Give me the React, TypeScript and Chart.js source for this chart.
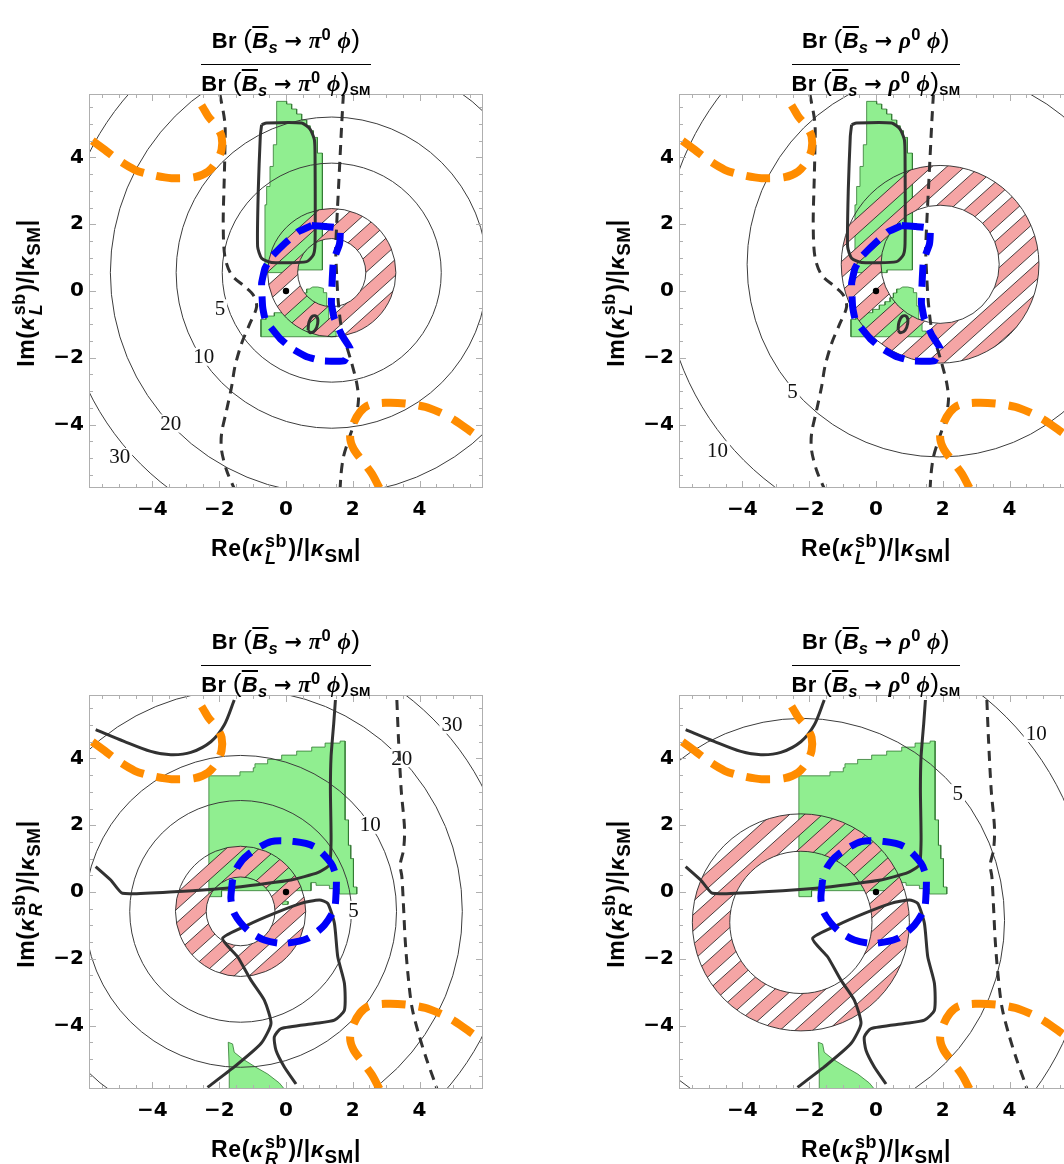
import React, { useEffect, useRef } from 'react';
import { Chart, registerables } from 'chart.js';

Chart.register(...registerables);

type Pt = [number, number];

// ---------- axes ----------
const AXIS_MIN = -5.9;
const AXIS_MAX = 5.9;
const TICK_VALUES = [-4, -2, 0, 2, 4];
const MINOR_STEP = 0.5;

// Standard-model point
const SM_POINT: Pt = [0, 0];

// ---------- orange dashed bounds (same in every panel) ----------
const ORANGE_UPPER: Pt[] = [
  [-5.8, 4.5], [-5.43, 4.23], [-5.03, 3.93], [-4.53, 3.63], [-4.03, 3.48], [-3.43, 3.38],
  [-2.73, 3.41], [-2.33, 3.58], [-2.08, 3.88], [-1.93, 4.23], [-1.93, 4.63], [-2.08, 4.93],
  [-2.33, 5.23], [-2.48, 5.48], [-2.53, 5.56],
];
const ORANGE_LOWER: Pt[] = [
  [2.8, -5.9], [2.57, -5.47], [2.27, -5.07], [2.02, -4.72], [1.92, -4.37], [2.02, -3.97],
  [2.22, -3.62], [2.47, -3.42], [2.97, -3.35], [3.57, -3.37], [4.17, -3.47], [4.57, -3.62],
  [4.97, -3.82], [5.27, -4.02], [5.62, -4.27],
];

// ---------- left-handed coupling ----------
const DASHED_L_LEFT: Pt[] = [
  [-1.98, 5.9], [-1.83, 5.03], [-1.83, 4.23], [-1.85, 3.33], [-1.88, 2.03], [-1.83, 1.03],
  [-1.63, 0.48], [-1.23, 0.13], [-0.98, -0.12], [-0.88, -0.47], [-1.08, -0.97], [-1.33, -1.57],
  [-1.53, -2.27], [-1.63, -2.87], [-1.78, -3.57], [-1.93, -4.27], [-1.93, -4.77], [-1.78, -5.37],
  [-1.55, -5.92],
];
const DASHED_L_RIGHT: Pt[] = [
  [1.72, 5.9], [1.67, 5.03], [1.62, 4.03], [1.57, 3.03], [1.52, 2.03], [1.49, 1.23],
  [1.52, 0.43], [1.57, -0.37], [1.67, -1.17], [1.82, -1.67], [1.97, -2.17], [2.12, -2.77],
  [2.17, -3.27], [2.07, -3.87], [1.87, -4.47], [1.72, -4.97], [1.65, -5.47], [1.62, -5.92],
];
const SOLID_L_BOX: Pt[] = [
  [-0.73, 4.98], [-0.58, 5.03], [0.47, 5.03], [0.72, 4.85], [0.85, 4.53], [0.87, 4.03],
  [0.87, 1.43], [0.82, 1.08], [0.62, 0.88], [-0.43, 0.85], [-0.73, 0.98], [-0.85, 1.33],
  [-0.83, 3.03], [-0.77, 4.63], [-0.73, 4.98],
];
const SOLID_L_LOOP: Pt[] = [
  [0.66, -1.18], [0.69, -0.93], [0.8, -0.75], [0.93, -0.78], [0.95, -0.97], [0.87, -1.18],
  [0.74, -1.25], [0.66, -1.18],
];
const BLUE_L: Pt[] = [
  [0.77, 1.96], [1.2, 1.93], [1.62, 1.87], [1.6, 1.4], [1.42, 0.9], [1.38, 0.23],
  [1.36, -0.37], [1.44, -0.8], [1.67, -1.32], [1.92, -1.72], [1.75, -2.09], [1.07, -2.09],
  [0.62, -1.97], [0.17, -1.72], [-0.18, -1.42], [-0.43, -1.12], [-0.62, -0.87], [-0.7, -0.47],
  [-0.73, 0.23], [-0.63, 0.68], [-0.43, 1.03], [-0.03, 1.43], [0.37, 1.78], [0.77, 1.96],
];
const GREEN_L_UPPER: Pt[] = [
  [-0.28, 5.68], [0.02, 5.68], [0.02, 5.6], [0.17, 5.6], [0.17, 5.45], [0.32, 5.45], [0.32, 5.3],
  [0.47, 5.3], [0.47, 5.12], [0.62, 5.12], [0.62, 4.95], [0.72, 4.95], [0.72, 4.8], [0.82, 4.8],
  [0.82, 4.6], [0.94, 4.6], [0.94, 4.13], [1.09, 4.13], [1.09, 0.63], [0.33, 0.63], [0.33, 0.55],
  [-0.63, 0.55], [-0.63, 2.58], [-0.58, 2.58], [-0.58, 3.13], [-0.48, 3.13], [-0.48, 3.73],
  [-0.38, 3.73], [-0.38, 4.38], [-0.28, 4.38], [-0.28, 5.68],
];
const GREEN_L_LOWER: Pt[] = [
  [-0.75, -0.85], [-0.75, -1.37], [1.5, -1.37], [1.5, -1.2], [1.38, -1.2], [1.38, -0.85],
  [1.28, -0.85], [1.28, -0.45], [1.22, -0.45], [1.22, -0.05], [1.12, -0.05], [1.12, 0.08],
  [0.95, 0.12], [0.8, 0.12], [0.7, 0.06], [0.62, 0.06], [0.62, -0.06], [0.52, -0.06],
  [0.52, -0.2], [0.42, -0.2], [0.42, -0.32], [0.27, -0.32], [0.27, -0.42], [0.1, -0.42],
  [0.1, -0.55], [-0.1, -0.55], [-0.1, -0.65], [-0.35, -0.65], [-0.35, -0.75], [-0.6, -0.75],
  [-0.6, -0.85], [-0.75, -0.85],
];

// ---------- right-handed coupling ----------
const DASHED_R: Pt[] = [
  [3.32, 5.75], [3.37, 4.56], [3.45, 3.06], [3.55, 1.9], [3.52, 1.26], [3.42, 0.81],
  [3.47, 0.46], [3.52, -0.44], [3.57, -1.44], [3.65, -2.44], [3.77, -3.44], [3.97, -4.24],
  [4.22, -5.04], [4.47, -5.74], [4.52, -5.9],
];
const SOLID_R_UPPER: Pt[] = [
  [-5.7, 4.86], [-4.85, 4.51], [-4.05, 4.21], [-3.45, 4.11], [-2.85, 4.18], [-2.25, 4.5],
  [-1.85, 5.0], [-1.55, 5.75],
];
const SOLID_R_MIDDLE: Pt[] = [
  [-5.7, 0.76], [-5.25, 0.36], [-4.9, -0.04], [-3.35, 0.01], [-1.35, 0.16], [0.15, 0.36],
  [0.95, 0.58], [1.3, 0.81], [1.35, 1.56], [1.33, 3.06], [1.35, 4.06], [1.43, 5.06], [1.48, 5.75],
];
const SOLID_R_LOWER: Pt[] = [
  [-2.35, -5.85], [-1.55, -5.24], [-0.75, -4.54], [-0.45, -3.94], [-0.65, -3.24], [-1.05, -2.64],
  [-1.45, -1.94], [-1.9, -1.39], [-1.15, -0.99], [-0.35, -0.64], [0.45, -0.34], [1.0, -0.24],
  [1.25, -0.34], [1.45, -0.94], [1.55, -1.94], [1.75, -2.74], [1.75, -3.54], [1.45, -3.84],
  [0.85, -3.94], [-0.15, -4.09], [-0.35, -4.34], [-0.3, -4.74], [-0.05, -5.24], [0.3, -5.75],
];
const BLUE_R: Pt[] = [
  [-1.6, 0.36], [-1.65, -0.2], [-1.55, -0.64], [-1.15, -1.14], [-0.65, -1.44], [-0.05, -1.54],
  [0.65, -1.39], [1.15, -0.99], [1.45, -0.5], [1.5, 0.0], [1.5, 0.46], [1.35, 0.86],
  [0.85, 1.36], [0.25, 1.51], [-0.45, 1.51], [-1.15, 1.11], [-1.45, 0.76], [-1.6, 0.36],
];
const GREEN_R_MAIN: Pt[] = [
  [-2.31, 3.48], [-1.38, 3.48], [-1.38, 3.6], [-0.98, 3.6], [-0.98, 3.72], [-0.93, 3.72],
  [-0.93, 3.84], [-0.55, 3.84], [-0.55, 3.97], [-0.13, 3.97], [-0.13, 4.1], [0.32, 4.1],
  [0.32, 4.22], [0.77, 4.22], [0.77, 4.34], [1.17, 4.34], [1.17, 4.46], [1.62, 4.46],
  [1.62, 4.52], [1.77, 4.52], [1.77, 2.16], [1.87, 2.16], [1.87, 1.4], [1.94, 1.4], [1.94, 1.0],
  [2.02, 1.0], [2.02, 0.15], [2.12, 0.15], [2.12, -0.06], [1.6, -0.06], [1.6, 0.1], [1.3, 0.1],
  [1.3, 0.2], [0.9, 0.2], [0.9, 0.28], [0.75, 0.28], [0.75, 0.04], [-1.93, 0.04], [-1.93, -0.14],
  [-2.31, -0.14], [-2.31, 3.48],
];
const GREEN_R_SPECK: Pt[] = [
  [-0.13, -0.3], [-0.05, -0.26], [0.07, -0.29], [0.06, -0.37], [-0.1, -0.38], [-0.13, -0.3],
];
const GREEN_R_LOWER: Pt[] = [
  [-1.73, -4.5], [-1.6, -4.55], [-1.55, -4.8], [-1.3, -5.0], [-0.9, -5.25], [-0.55, -5.45],
  [-0.2, -5.72], [-0.05, -5.9], [-1.68, -5.9], [-1.7, -5.3], [-1.73, -4.5],
];

// ---------- branching-ratio contours (levels, common centre, radii, label spots) ----------
const LEVELS_PI = [5, 10, 20, 30];
const LEVELS_RHO = [5, 10];

const CENTER_PI_L: Pt = [1.37, 0.55];
const RADII_PI_L = [3.28, 4.66, 6.63, 8.1];
const LABELS_PI_L: Pt[] = [[-1.98, -0.52], [-2.46, -1.97], [-3.45, -3.97], [-4.98, -4.97]];

const CENTER_RHO_L: Pt = [1.91, 0.8];
const RADII_RHO_L = [5.77, 8.3];
const LABELS_RHO_L: Pt[] = [[-2.5, -3.02], [-4.75, -4.77]];

const CENTER_PI_R: Pt = [-1.36, -0.58];
const RADII_PI_R = [3.32, 4.67, 6.64, 8.15];
const LABELS_PI_R: Pt[] = [[2.02, -0.54], [2.52, 2.01], [3.47, 4.01], [4.97, 5.01]];

const CENTER_RHO_R: Pt = [-2.2, -0.85];
const RADII_RHO_R = [6.05, 8.62];
const LABELS_RHO_R: Pt[] = [[2.45, 2.96], [4.8, 4.76]];

// ---------- hatched experimental band: centre, [inner, outer] radius ----------
const BAND_CENTER_PI_L: Pt = [1.37, 0.55];
const BAND_PI_L: Pt = [1.02, 1.92];
const BAND_CENTER_RHO_L: Pt = [1.92, 0.8];
const BAND_RHO_L: Pt = [1.77, 2.96];
const BAND_CENTER_PI_R: Pt = [-1.36, -0.58];
const BAND_PI_R: Pt = [1.03, 1.95];
const BAND_CENTER_RHO_R: Pt = [-2.25, -0.91];
const BAND_RHO_R: Pt = [2.13, 3.25];

// ---------- styling ----------
const SANS = '"Liberation Sans", Arial, Helvetica, sans-serif';
const TICK_FAMILY = '"DejaVu Sans", "Liberation Sans", Arial, sans-serif';
const SERIF = '"Liberation Serif", "DejaVu Serif", "Times New Roman", serif';
const GREEN_FILL = 'rgb(144,238,144)';
const GREEN_EDGE = 'rgb(50,120,50)';
const DARK = 'rgb(50,50,50)';
const BLUE = 'rgb(0,0,250)';
const ORANGE = 'rgb(255,140,0)';
const PINK = 'rgb(245,165,165)';
const FRAME_COLOR = 'rgb(175,175,175)';
const HATCH_ANGLE_DEG = 42;
const HATCH_PERIOD = 22;
const HATCH_BAND = 12;
const DASH_BLACK = [10, 7];
const DASH_BLUE = [22, 11];
const DASH_ORANGE = [24, 13];

// ---------- page layout ----------
const AREA = 394;
const CANVAS_PAD_TOP = 10;
const X_AXIS_HEIGHT = 50;
const COLS = [
  { areaLeft: 89, canvasLeft: 0, canvasWidth: 532 },
  { areaLeft: 679, canvasLeft: 532, canvasWidth: 548 },
];
const ROWS = [{ areaTop: 94 }, { areaTop: 695 }];

interface PanelSpec {
  col: number;
  row: number;
  meson: string;
  chirality: 'L' | 'R';
  levels: number[];
  center: Pt;
  radii: number[];
  labels: Pt[];
  bandCenter: Pt;
  band: Pt;
}

const PANELS: PanelSpec[] = [
  { col: 0, row: 0, meson: 'π', chirality: 'L', levels: LEVELS_PI, center: CENTER_PI_L, radii: RADII_PI_L, labels: LABELS_PI_L, bandCenter: BAND_CENTER_PI_L, band: BAND_PI_L },
  { col: 1, row: 0, meson: 'ρ', chirality: 'L', levels: LEVELS_RHO, center: CENTER_RHO_L, radii: RADII_RHO_L, labels: LABELS_RHO_L, bandCenter: BAND_CENTER_RHO_L, band: BAND_RHO_L },
  { col: 0, row: 1, meson: 'π', chirality: 'R', levels: LEVELS_PI, center: CENTER_PI_R, radii: RADII_PI_R, labels: LABELS_PI_R, bandCenter: BAND_CENTER_PI_R, band: BAND_PI_R },
  { col: 1, row: 1, meson: 'ρ', chirality: 'R', levels: LEVELS_RHO, center: CENTER_RHO_R, radii: RADII_RHO_R, labels: LABELS_RHO_R, bandCenter: BAND_CENTER_RHO_R, band: BAND_RHO_R },
];

// ---------- dataset helpers ----------
const xy = (pts: Pt[]) => pts.map(([x, y]) => ({ x, y }));

function curve(pts: Pt[], color: string, width: number, dash: number[], order: number, tension = 0.3) {
  return {
    data: xy(pts), showLine: true, fill: false, pointRadius: 0, pointHoverRadius: 0,
    borderColor: color, borderWidth: width, borderDash: dash, borderCapStyle: 'butt',
    borderJoinStyle: 'round', tension, clip: 0, order,
  };
}

function region(pts: Pt[], order: number) {
  return {
    data: xy(pts), showLine: true, fill: 'shape', backgroundColor: GREEN_FILL,
    borderColor: GREEN_EDGE, borderWidth: 0.8, pointRadius: 0, pointHoverRadius: 0,
    tension: 0, clip: 0, order,
  };
}

function buildDatasets(spec: PanelSpec): any[] {
  const sets: any[] = [];
  if (spec.chirality === 'L') {
    sets.push(region(GREEN_L_UPPER, 10), region(GREEN_L_LOWER, 10));
  } else {
    sets.push(region(GREEN_R_MAIN, 10), region(GREEN_R_SPECK, 10), region(GREEN_R_LOWER, 10));
  }
  // empty anchor: hatched band and contour circles are painted right after it
  sets.push({ data: [], underlay: true, order: 9, pointRadius: 0 });
  if (spec.chirality === 'L') {
    sets.push(curve(DASHED_L_LEFT, DARK, 3, DASH_BLACK, 5));
    sets.push(curve(DASHED_L_RIGHT, DARK, 3, DASH_BLACK, 5));
    sets.push(curve(SOLID_L_BOX, DARK, 3, [], 4, 0.2));
    sets.push(curve(SOLID_L_LOOP, DARK, 3, [], 4, 0.4));
    sets.push(curve(BLUE_L, BLUE, 7, DASH_BLUE, 3, 0.1));
  } else {
    sets.push(curve(DASHED_R, DARK, 3, DASH_BLACK, 5));
    sets.push(curve(SOLID_R_UPPER, DARK, 3, [], 4, 0.3));
    sets.push(curve(SOLID_R_MIDDLE, DARK, 3, [], 4, 0.15));
    sets.push(curve(SOLID_R_LOWER, DARK, 3, [], 4, 0.2));
    sets.push(curve(BLUE_R, BLUE, 7, DASH_BLUE, 3, 0.25));
  }
  sets.push(curve(ORANGE_UPPER, ORANGE, 8, DASH_ORANGE, 2));
  sets.push(curve(ORANGE_LOWER, ORANGE, 8, DASH_ORANGE, 2));
  sets.push({
    data: xy([SM_POINT]), showLine: false, pointRadius: 3.2, pointHoverRadius: 3.2,
    pointBackgroundColor: '#000', pointBorderWidth: 0, clip: 0, order: 1,
  });
  return sets;
}

// ---------- canvas painting ----------
function drawBand(ctx: CanvasRenderingContext2D, xs: any, ys: any, spec: PanelSpec) {
  const k = xs.getPixelForValue(1) - xs.getPixelForValue(0);
  const cx = xs.getPixelForValue(spec.bandCenter[0]);
  const cy = ys.getPixelForValue(spec.bandCenter[1]);
  const ri = spec.band[0] * k;
  const ro = spec.band[1] * k;
  ctx.save();
  ctx.beginPath();
  ctx.arc(cx, cy, ro, 0, Math.PI * 2);
  ctx.moveTo(cx + ri, cy);
  ctx.arc(cx, cy, ri, 0, Math.PI * 2, true);
  ctx.clip();
  ctx.translate(cx, cy);
  ctx.rotate((-HATCH_ANGLE_DEG * Math.PI) / 180);
  ctx.fillStyle = PINK;
  ctx.strokeStyle = 'rgba(20,20,20,0.9)';
  ctx.lineWidth = 0.8;
  for (let s = -ro - HATCH_PERIOD * 0.6; s < ro + HATCH_PERIOD; s += HATCH_PERIOD) {
    ctx.fillRect(-ro - 6, s, 2 * ro + 12, HATCH_BAND);
    ctx.beginPath();
    ctx.moveTo(-ro - 6, s);
    ctx.lineTo(ro + 6, s);
    ctx.moveTo(-ro - 6, s + HATCH_BAND);
    ctx.lineTo(ro + 6, s + HATCH_BAND);
    ctx.stroke();
  }
  ctx.restore();
  ctx.save();
  ctx.strokeStyle = 'rgb(40,40,40)';
  ctx.lineWidth = 0.9;
  ctx.beginPath();
  ctx.arc(cx, cy, ro, 0, Math.PI * 2);
  ctx.stroke();
  ctx.beginPath();
  ctx.arc(cx, cy, ri, 0, Math.PI * 2);
  ctx.stroke();
  ctx.restore();
}

function drawContours(ctx: CanvasRenderingContext2D, xs: any, ys: any, spec: PanelSpec) {
  const k = xs.getPixelForValue(1) - xs.getPixelForValue(0);
  const cx = xs.getPixelForValue(spec.center[0]);
  const cy = ys.getPixelForValue(spec.center[1]);
  ctx.save();
  ctx.strokeStyle = 'rgb(60,60,60)';
  ctx.lineWidth = 1;
  spec.radii.forEach((r) => {
    ctx.beginPath();
    ctx.arc(cx, cy, r * k, 0, Math.PI * 2);
    ctx.stroke();
  });
  ctx.font = `21px ${SERIF}`;
  ctx.textAlign = 'center';
  ctx.textBaseline = 'middle';
  spec.levels.forEach((lv, i) => {
    const [lx, ly] = spec.labels[i];
    const px = xs.getPixelForValue(lx);
    const py = ys.getPixelForValue(ly);
    const t = String(lv);
    const w = ctx.measureText(t).width;
    ctx.fillStyle = '#fff';
    ctx.fillRect(px - w / 2 - 2, py - 9, w + 4, 18);
    ctx.fillStyle = '#111';
    ctx.fillText(t, px, py + 1);
  });
  ctx.restore();
}

function drawFrame(chart: any) {
  const { ctx, chartArea: a, scales } = chart;
  const xs = scales.x;
  const ys = scales.y;
  ctx.save();
  ctx.strokeStyle = FRAME_COLOR;
  ctx.lineWidth = 1;
  ctx.strokeRect(Math.round(a.left) + 0.5, Math.round(a.top) + 0.5, Math.round(a.right - a.left) - 1, Math.round(a.bottom - a.top) - 1);
  ctx.beginPath();
  const first = Math.ceil((AXIS_MIN + 0.01) / MINOR_STEP);
  const last = Math.floor((AXIS_MAX - 0.01) / MINOR_STEP);
  for (let i = first; i <= last; i++) {
    const v = i * MINOR_STEP;
    const len = TICK_VALUES.includes(v) ? 7 : 4;
    const px = Math.round(xs.getPixelForValue(v)) + 0.5;
    const py = Math.round(ys.getPixelForValue(v)) + 0.5;
    ctx.moveTo(px, a.bottom);
    ctx.lineTo(px, a.bottom - len);
    ctx.moveTo(px, a.top);
    ctx.lineTo(px, a.top + len);
    ctx.moveTo(a.left, py);
    ctx.lineTo(a.left + len, py);
    ctx.moveTo(a.right, py);
    ctx.lineTo(a.right - len, py);
  }
  ctx.stroke();
  ctx.restore();
}

function extrasPlugin(spec: PanelSpec) {
  return {
    id: 'panelExtras',
    afterDatasetDraw(chart: any, args: any) {
      const ds = chart.data.datasets[args.index];
      if (!ds || !ds.underlay) return;
      const { ctx, chartArea: a } = chart;
      ctx.save();
      ctx.beginPath();
      ctx.rect(a.left, a.top, a.right - a.left, a.bottom - a.top);
      ctx.clip();
      drawBand(ctx, chart.scales.x, chart.scales.y, spec);
      drawContours(ctx, chart.scales.x, chart.scales.y, spec);
      ctx.restore();
    },
    afterDraw(chart: any) {
      drawFrame(chart);
    },
  };
}

const tickLabel = (v: number | string) => {
  const n = Number(v);
  return n < 0 ? `\u2212${Math.abs(n)}` : String(n);
};

function buildConfig(spec: PanelSpec): any {
  const col = COLS[spec.col];
  const yWidth = col.areaLeft - col.canvasLeft;
  const padRight = col.canvasWidth - yWidth - AREA;
  const tickFont = { family: TICK_FAMILY, size: 20, weight: 'bold' as const };
  const noEdgePadding = (s: any) => {
    s.paddingTop = 0;
    s.paddingBottom = 0;
    s.paddingLeft = 0;
    s.paddingRight = 0;
  };
  return {
    type: 'scatter',
    data: { datasets: buildDatasets(spec) },
    options: {
      animation: false,
      responsive: false,
      maintainAspectRatio: false,
      events: [],
      layout: { padding: { top: CANVAS_PAD_TOP, left: 0, right: padRight, bottom: 0 }, autoPadding: false },
      plugins: { legend: { display: false }, tooltip: { enabled: false }, title: { display: false } },
      scales: {
        x: {
          type: 'linear', position: 'bottom', min: AXIS_MIN, max: AXIS_MAX,
          grid: { display: false, drawTicks: false }, border: { display: false },
          ticks: { font: tickFont, color: '#000', padding: 10, maxRotation: 0, autoSkip: false, callback: tickLabel },
          afterBuildTicks: (s: any) => { s.ticks = TICK_VALUES.map((value) => ({ value })); },
          afterFit: (s: any) => { s.height = X_AXIS_HEIGHT; noEdgePadding(s); },
        },
        y: {
          type: 'linear', position: 'left', min: AXIS_MIN, max: AXIS_MAX,
          grid: { display: false, drawTicks: false }, border: { display: false },
          ticks: { font: tickFont, color: '#000', padding: 5, autoSkip: false, callback: tickLabel },
          afterBuildTicks: (s: any) => { s.ticks = TICK_VALUES.map((value) => ({ value })); },
          afterFit: (s: any) => { s.width = yWidth; noEdgePadding(s); },
        },
      },
    },
    plugins: [extrasPlugin(spec)],
  };
}

// ---------- typeset labels ----------
function Sub({ children, scale = 0.75 }: { children: React.ReactNode; scale?: number }) {
  return <span style={{ fontSize: `${scale}em`, position: 'relative', top: '0.3em' }}>{children}</span>;
}
function Sup({ children, scale = 0.75 }: { children: React.ReactNode; scale?: number }) {
  return <span style={{ fontSize: `${scale}em`, position: 'relative', top: '-0.5em' }}>{children}</span>;
}
const greek: React.CSSProperties = { fontFamily: SERIF, fontStyle: 'italic', fontSize: '1.05em' };
const paren: React.CSSProperties = { fontWeight: 400, fontSize: '1.2em' };
const arrow: React.CSSProperties = { fontFamily: '"DejaVu Sans", sans-serif', fontSize: '0.95em' };

function Decay({ meson }: { meson: string }) {
  return (
    <>
      {'Br '}
      <span style={paren}>(</span>
      <span style={{ fontStyle: 'italic', textDecoration: 'overline', textDecorationThickness: '2px' }}>B</span>
      <Sub><i>s</i></Sub>
      {' '}
      <span style={arrow}>{'\u2192'}</span>
      {' '}
      <span style={greek}>{meson}</span>
      <Sup>0</Sup>
      {' '}
      <span style={greek}>ϕ</span>
      <span style={paren}>)</span>
    </>
  );
}

function Ratio({ meson, cx, top }: { meson: string; cx: number; top: number }) {
  return (
    <div style={{ position: 'absolute', left: cx - 160, top, width: 320, textAlign: 'center', font: `bold 22px ${SANS}`, letterSpacing: '0.3px', color: '#000' }}>
      <div style={{ display: 'inline-block' }}>
        <div style={{ lineHeight: '26px', paddingBottom: 9, borderBottom: '1.6px solid #000', whiteSpace: 'nowrap' }}>
          <Decay meson={meson} />
        </div>
        <div style={{ lineHeight: '26px', paddingTop: 4, whiteSpace: 'nowrap' }}>
          <Decay meson={meson} />
          <Sub scale={0.62}>SM</Sub>
        </div>
      </div>
    </div>
  );
}

function Coupling({ part, chirality }: { part: string; chirality: string }) {
  return (
    <>
      {part}(
      <span style={{ fontStyle: 'italic' }}>κ</span>
      <span style={{ display: 'inline-flex', flexDirection: 'column', verticalAlign: 'middle', fontSize: '0.78em', lineHeight: 0.95, textAlign: 'left', margin: '0 0.08em' }}>
        <span>sb</span>
        <span style={{ fontStyle: 'italic' }}>{chirality}</span>
      </span>
      )/|
      <span style={{ fontStyle: 'italic' }}>κ</span>
      <Sub scale={0.82}>SM</Sub>|
    </>
  );
}

const axisTitle: React.CSSProperties = {
  position: 'absolute', width: 320, lineHeight: '30px', textAlign: 'center',
  font: `bold 23px ${SANS}`, letterSpacing: '0.6px', whiteSpace: 'nowrap', color: '#000',
};

function Panel({ spec }: { spec: PanelSpec }) {
  const ref = useRef<HTMLCanvasElement | null>(null);
  const col = COLS[spec.col];
  const row = ROWS[spec.row];
  const canvasTop = row.areaTop - CANVAS_PAD_TOP;
  const canvasHeight = CANVAS_PAD_TOP + AREA + X_AXIS_HEIGHT;
  const midX = col.areaLeft + AREA / 2;
  const midY = row.areaTop + AREA / 2;

  useEffect(() => {
    if (!ref.current) return;
    const chart = new Chart(ref.current, buildConfig(spec));
    return () => chart.destroy();
  }, [spec]);

  return (
    <>
      <canvas
        ref={ref}
        width={col.canvasWidth}
        height={canvasHeight}
        style={{ position: 'absolute', left: col.canvasLeft, top: canvasTop, width: col.canvasWidth, height: canvasHeight, display: 'block' }}
      />
      <Ratio meson={spec.meson} cx={midX} top={row.areaTop - 68} />
      <div style={{ ...axisTitle, left: midX - 160, top: row.areaTop + AREA + 45 }}>
        <Coupling part="Re" chirality={spec.chirality} />
      </div>
      <div style={{ ...axisTitle, left: col.areaLeft - 61 - 160, top: midY - 15, transform: 'rotate(-90deg)' }}>
        <Coupling part="Im" chirality={spec.chirality} />
      </div>
    </>
  );
}

export default function App() {
  return (
    <div style={{ position: 'absolute', left: 0, top: 0, width: 1064, height: 1164, overflow: 'hidden', background: '#fff' }}>
      {PANELS.map((p, i) => (
        <Panel key={i} spec={p} />
      ))}
    </div>
  );
}
